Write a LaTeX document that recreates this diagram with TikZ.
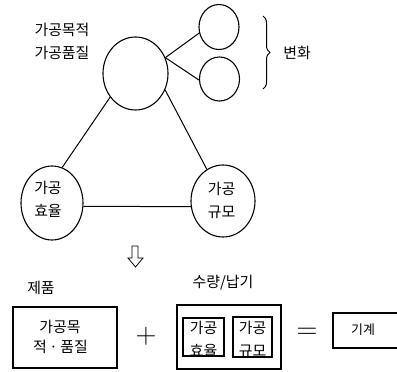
\documentclass[tikz,border=0pt]{standalone}
\usepackage{fontspec}
\setmainfont{Noto Sans CJK KR}
\usetikzlibrary{shapes.geometric,decorations.pathreplacing}
\tikzset{
  lbl/.style={inner sep=0pt,font=\fontsize{15}{17}\selectfont},
  circ/.style={draw,ellipse,inner sep=0pt,line width=1.1bp},
  conn/.style={line width=1bp},
  boxline/.style={draw,line width=1.1bp},
}
\begin{document}
\begin{tikzpicture}[x=1bp,y=-1bp]
\useasboundingbox (0,0) rectangle (397,372);
% top labels
\node[lbl] (t1) at (62,30) {가공목적};
\node[lbl] (t2) at (62,53) {가공품질};
% circles
\node[circ,minimum width=65bp,minimum height=73bp] (B) at (135.5,73.5) {};
\node[circ,minimum width=40bp,minimum height=45bp] (s1) at (219,27) {};
\node[circ,minimum width=40bp,minimum height=44bp] (s2) at (219.5,79) {};
\node[circ,minimum width=62bp,minimum height=74bp] (L) at (52,203) {};
\node[circ,minimum width=64bp,minimum height=72bp] (R) at (223,201) {};
\node[lbl] (L1) at (48,188) {가공};
\node[lbl] (L2) at (48,211) {효율};
\node[lbl] (R1) at (221.5,189) {가공};
\node[lbl] (R2) at (221.5,212) {규모};
% connectors
\draw[conn] (B.28) -- (s1.197);
\draw[conn] (B.28) -- (s2.183);
\draw[conn] (B.223) -- (L.74);
\draw[conn] (B.331) -- (R.117);
\draw[conn] (L.-6) -- (R.190);
% brace
\draw[conn,decorate,decoration={brace,amplitude=7bp}] (263,16) -- (263,89);
\node[lbl] (bh) at (297,53) {변화};
% hollow down arrow
\draw[line width=0.8bp] (132,246) -- (138,246) -- (138,258) -- (143,258) -- (135.5,267) -- (128,258) -- (132,258) -- cycle;
% bottom row
\node[lbl] (p) at (41,288) {제품};
\draw[boxline] (13,307) rectangle (117,368);
\node[lbl] (b1a) at (60,327) {가공목};
\node[lbl] (b1b) at (60.5,347) {적\,·\,품질};
\node[inner sep=0pt,font=\fontsize{29}{30}\selectfont] (plus) at (146,336) {\fontspec{Latin Modern Roman}+};
\node[lbl] (q) at (223,283) {수량/납기};
\draw[boxline] (177,305) rectangle (281,369);
\draw[boxline] (183,318) rectangle (224,356);
\draw[boxline] (233,317) rectangle (272,357);
\node[lbl] (i1a) at (203.5,328) {가공};
\node[lbl] (i1b) at (203.5,351) {효율};
\node[lbl] (i2a) at (252.5,328) {가공};
\node[lbl] (i2b) at (252.5,351) {규모};
\node[inner sep=0pt,font=\fontsize{29}{30}\selectfont] (eq) at (307,333) {\fontspec{Latin Modern Roman}=};
\draw[boxline] (398,313) -- (333,313) -- (333,348) -- (398,348);
\node[inner sep=0pt,font=\fontsize{13}{15}\selectfont] (m) at (363,330) {기계};
\end{tikzpicture}
\end{document}
